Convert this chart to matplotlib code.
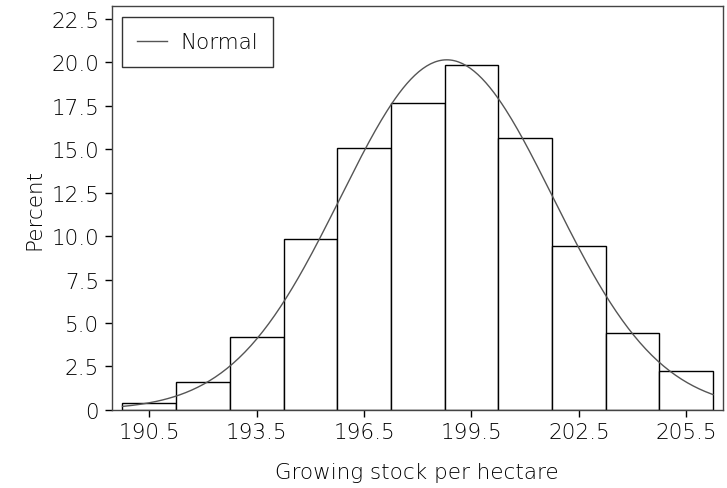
import numpy as np
import matplotlib
matplotlib.use('Agg')
import matplotlib.pyplot as plt

plt.rcParams['font.family'] = 'DejaVu Sans'
plt.rcParams['font.weight'] = 'light'
plt.rcParams['axes.labelweight'] = 'light'

# histogram midpoints and percents
midpoints = [190.5, 192.0, 193.5, 195.0, 196.5, 198.0, 199.5, 201.0, 202.5, 204.0, 205.5]
percents = [0.37, 1.6, 4.2, 9.84, 15.07, 17.66, 19.87, 15.67, 9.44, 4.43, 2.24]
binWidth = 1.5

# fitted normal parameters
mu = 198.81
sigma = 2.97

xTicks = [190.5, 193.5, 196.5, 199.5, 202.5, 205.5]
yTicks = [0, 2.5, 5.0, 7.5, 10.0, 12.5, 15.0, 17.5, 20.0, 22.5]
yTickLabels = ['0', '2.5', '5.0', '7.5', '10.0', '12.5', '15.0', '17.5', '20.0', '22.5']

fig = plt.figure(figsize=(7.27, 4.89), dpi=100)
ax = fig.add_axes([0.1537, 0.160, 0.8404, 0.8247])

ax.bar(midpoints, percents, width=binWidth, facecolor='white', edgecolor='black', linewidth=1.0)

xs = np.linspace(midpoints[0] - binWidth/2, midpoints[-1] + binWidth/2, 300)
pdf = 100*binWidth/(sigma*np.sqrt(2*np.pi))*np.exp(-0.5*((xs - mu)/sigma)**2)
ax.plot(xs, pdf, '-', color='#555555', linewidth=1.0, label='Normal')

ax.set_xlim(189.45, 206.52)
ax.set_ylim(0, 23.22)
ax.set_xticks(xTicks)
ax.set_xticklabels(['%.1f' % t for t in xTicks])
ax.set_yticks(yTicks)
ax.set_yticklabels(yTickLabels)
ax.tick_params(direction='out', length=5, width=1, labelsize=15.5, pad=4, colors='black')
for s in ax.spines.values():
    s.set_color('#444444')
    s.set_linewidth(1.0)

ax.set_xlabel('Growing stock per hectare', fontsize=15.5, fontweight='light', labelpad=14, color='black')
ax.set_ylabel('Percent', fontsize=15.5, fontweight='light', labelpad=5, color='black')

leg = ax.legend(loc='upper left', fontsize=15.5, frameon=True, fancybox=False,
                edgecolor='black', handlelength=1.4, handletextpad=0.6,
                borderpad=0.7, borderaxespad=0,
                bbox_to_anchor=(0.017, 0.974))
leg.get_frame().set_linewidth(1.0)
for t in leg.get_texts():
    t.set_color('black')

fig.savefig('out.png', dpi=100)
